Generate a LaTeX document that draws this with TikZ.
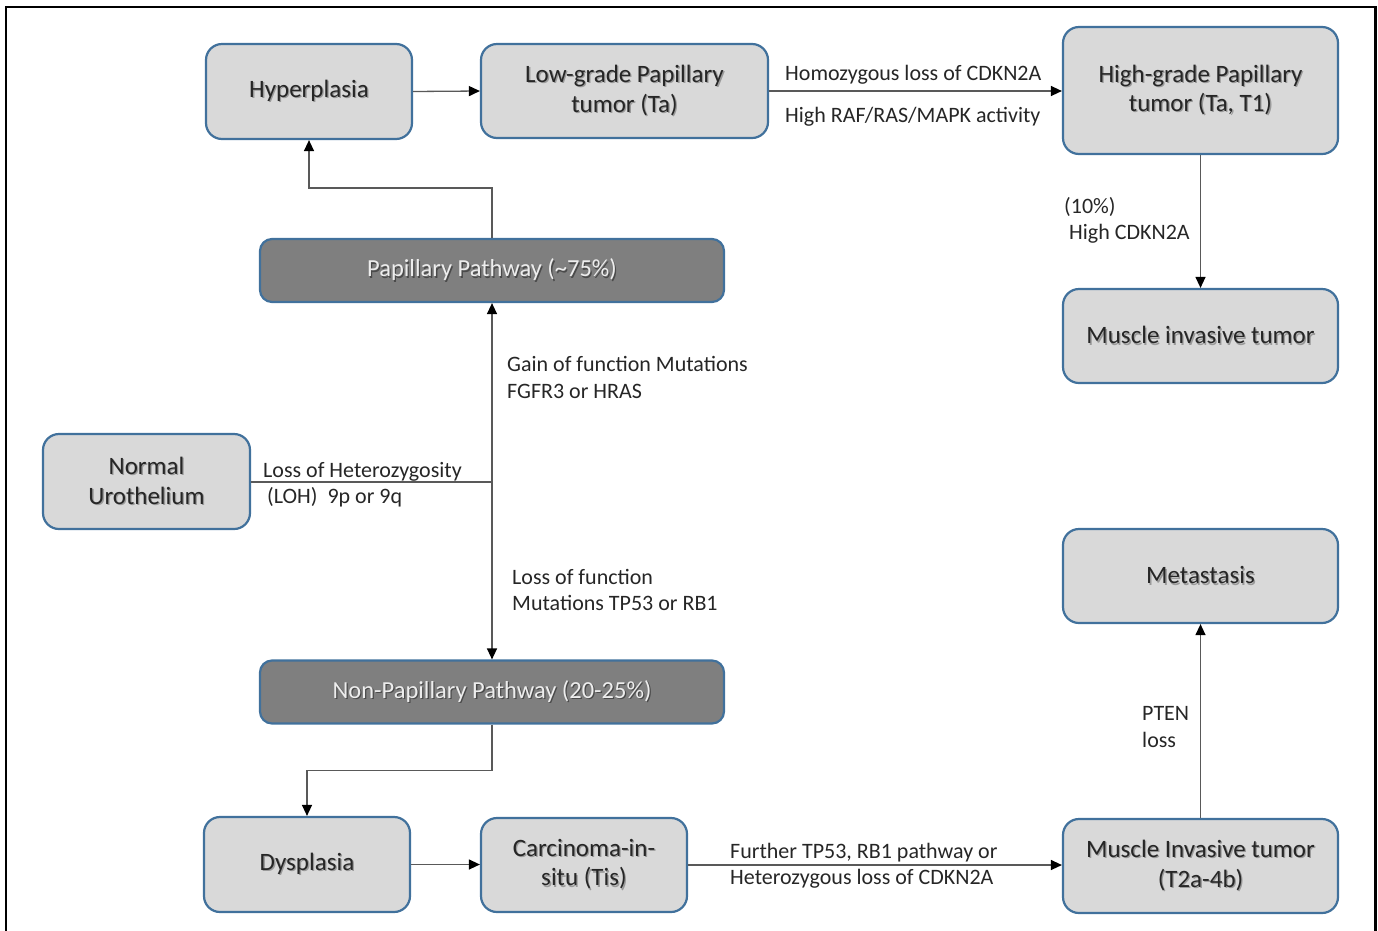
\documentclass[tikz,border=0pt]{standalone}
\usepackage{fontspec}
\setmainfont{Carlito}
\usetikzlibrary{arrows.meta}
\definecolor{boxblue}{HTML}{41719C}
\definecolor{boxgray}{HTML}{D9D9D9}
\definecolor{darkfill}{HTML}{7F7F7F}
\definecolor{linegray}{HTML}{595959}
\definecolor{txt}{HTML}{262626}
\definecolor{shadowgray}{HTML}{9A9A9A}
\definecolor{darkshadow}{HTML}{4A4A4A}
\newcommand\sh[1]{\makebox[0pt][l]{\hspace{1.3pt}\raisebox{-1.3pt}{\textcolor{shadowgray}{#1}}}#1}
\newcommand\dsh[1]{\makebox[0pt][l]{\hspace{1.3pt}\raisebox{-1.3pt}{\textcolor{darkshadow}{#1}}}#1}
\begin{document}
\begin{tikzpicture}[x=1pt,y=-1pt,
 box/.style={draw=boxblue, fill=boxgray, line width=2.2pt, rounded corners=16pt, align=center,
   font=\fontsize{25}{29.5}\selectfont, text=txt, inner sep=0pt},
 darkbox/.style={draw=boxblue, fill=darkfill, line width=2.2pt, rounded corners=12pt,
   text=white!93!black, font=\fontsize{24.5}{29}\selectfont, inner sep=0pt,
   minimum width=464pt, minimum height=63pt},
 conn/.style={draw=linegray, line width=1.3pt, -{Triangle[length=11pt,width=10pt,color=black]}},
 plain/.style={draw=linegray, line width=1.3pt},
 lbl/.style={font=\fontsize{22}{26}\selectfont, text=txt, inner sep=0pt, anchor=base west}
]
\useasboundingbox (0,0) rectangle (1378,930);
\draw[line width=2.6pt] (6,940) -- (6,7) -- (1375.5,7) -- (1375.5,940);

% nodes
\node[box, minimum width=206pt, minimum height=95pt] (hyp) at (309,91.5) {\sh{Hyperplasia}};
\node[box, minimum width=287pt, minimum height=94pt] (low) at (624.5,91) {\sh{Low-grade Papillary}\\\sh{tumor (Ta)}};
\node[box, minimum width=275pt, minimum height=127pt] (high) at (1200.5,90.5) {\sh{High-grade Papillary}\\\sh{tumor (Ta, T1)}};
\node[darkbox] (pap) at (492,270.5) {\dsh{Papillary Pathway (\textasciitilde75\%)}};
\node[box, minimum width=275pt, minimum height=94pt] (mit) at (1200.5,336) {\sh{Muscle invasive tumor}};
\node[box, minimum width=207pt, minimum height=95pt] (norm) at (146.5,481.5) {\sh{Normal}\\\sh{Urothelium}};
\node[box, minimum width=275pt, minimum height=94pt] (met) at (1200.5,576) {\sh{Metastasis}};
\node[darkbox] (npap) at (492,692) {\dsh{Non-Papillary Pathway (20-25\%)}};
\node[box, minimum width=206pt, minimum height=95pt] (dys) at (307,864.5) {\sh{Dysplasia}};
\node[box, minimum width=206pt, minimum height=94pt] (cis) at (584,865) {\sh{Carcinoma-in-}\\\sh{situ (Tis)}};
\node[box, minimum width=275pt, minimum height=94pt] (mi) at (1200.5,866) {\sh{Muscle Invasive tumor}\\\sh{(T2a-4b)}};

% connectors
\coordinate (j) at (492,482);
\draw[conn] (hyp.east) -- (low.west);
\draw[conn] (low.east) -- (low.east -| high.west);
\draw[conn] (high.south) -- (mit.north);
\draw[conn] (pap.north) -- ++(0,-50) -| (hyp.south);
\draw[plain] (norm.east |- j) -- (j);
\draw[conn] (j) -- (pap.south);
\draw[conn] (j) -- (npap.north);
\draw[conn] (npap.south) -- ++(0,46) -| (dys.north);
\draw[conn] (dys.east) -- (dys.east -| cis.west);
\draw[conn] (cis.east) -- (cis.east -| mi.west);
\draw[conn] (mi.north) -- (met.south);

% labels
\node[lbl] (l1) at (785,80) {Homozygous loss of CDKN2A};
\node[lbl] (l2) at (785,122) {High RAF/RAS/MAPK activity};
\node[lbl] (l3) at (1064,213) {(10\%)};
\node[lbl] (l4) at (1069,239) {High CDKN2A};
\node[lbl] (l5) at (263,477) {Loss of Heterozygosity};
\node[lbl] (l6) at (267,503) {(LOH)\ \ 9p or 9q};
\node[lbl] (l7) at (507,371) {Gain of function Mutations};
\node[lbl] (l8) at (507,398) {FGFR3 or HRAS};
\node[lbl] (l9) at (512,584) {Loss of function};
\node[lbl] (l10) at (512,610) {Mutations TP53 or RB1};
\node[lbl] (l11) at (730,858) {Further TP53, RB1 pathway or};
\node[lbl] (l12) at (730,884) {Heterozygous loss of CDKN2A};
\node[lbl] (l13) at (1142,720) {PTEN};
\node[lbl] (l14) at (1142,747) {loss};
\end{tikzpicture}
\end{document}
